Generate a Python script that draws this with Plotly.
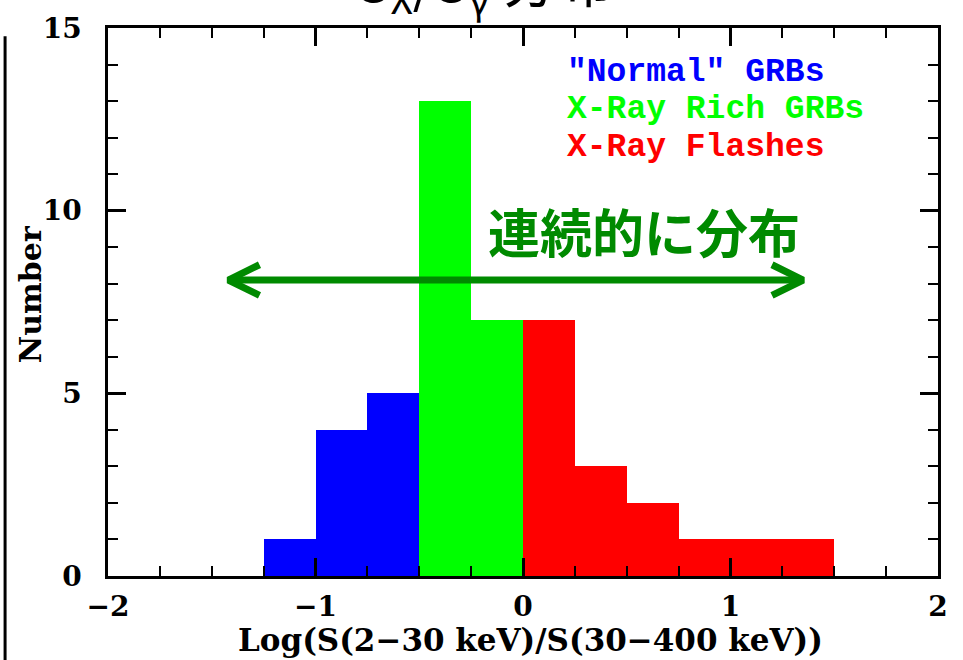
import plotly.graph_objects as go

# Histogram of log fluence ratio, one bin every 0.25
bin_width = 0.25
normal_x = [-1.125, -0.875, -0.625]
normal_n = [1, 4, 5]
xrr_x = [-0.375, -0.125]
xrr_n = [13, 7]
xrf_x = [0.125, 0.375, 0.625, 0.875, 1.125, 1.375]
xrf_n = [7, 3, 2, 1, 1, 1]

series_names = ['"Normal" GRBs', "X-Ray Rich GRBs", "X-Ray Flashes"]
series_colors = ["#0000FF", "#00FF00", "#FF0000"]
label_rows = [13.78, 12.76, 11.74]

# Double-headed arrow across the distribution
arrow_x = [-1.42, 1.35]
arrow_y = 8.1
arrow_label = "連続的に分布"

serif = "DejaVu Serif"
mono = "Liberation Mono"
cjk = "Noto Sans CJK JP"

fig = go.Figure()
for xs, ns, name, col in zip([normal_x, xrr_x, xrf_x], [normal_n, xrr_n, xrf_n],
                             series_names, series_colors):
    fig.add_trace(go.Bar(x=xs, y=ns, width=bin_width, name=name,
                         marker=dict(color=col, line=dict(width=0)),
                         showlegend=False))

# arrow shaft and open chevron heads
arm_dx, arm_dy = 0.15, 0.42
green_dark = "#008A00"
fig.add_trace(go.Scatter(x=arrow_x, y=[arrow_y, arrow_y], mode="lines",
                         line=dict(color=green_dark, width=7), showlegend=False,
                         hoverinfo="skip"))
for tip, sgn in [(arrow_x[0], 1), (arrow_x[1], -1)]:
    fig.add_trace(go.Scatter(
        x=[tip + sgn * arm_dx, tip, tip + sgn * arm_dx],
        y=[arrow_y + arm_dy, arrow_y, arrow_y - arm_dy],
        mode="lines", line=dict(color=green_dark, width=7),
        showlegend=False, hoverinfo="skip"))

fig.add_annotation(x=-0.18, y=9.45, xref="x", yref="y", text=arrow_label,
                   showarrow=False, xanchor="left", yanchor="middle",
                   font=dict(family=cjk, size=52, color=green_dark, weight="bold"))

# colour-coded series labels
for name, col, row in zip(series_names, series_colors, label_rows):
    fig.add_annotation(x=0.2, y=row, xref="x", yref="y",
                       text=name, showarrow=False,
                       xanchor="left", yanchor="middle",
                       font=dict(family=mono, size=33, color=col, weight="bold"))

# heading at the top edge
fig.add_annotation(x=0.455, y=1, xref="paper", yref="paper",
                   text="S<sub>X</sub>/S<sub>γ</sub> 分布", showarrow=False,
                   xanchor="center", yanchor="bottom", yshift=1,
                   font=dict(family=cjk, size=56, color="black"))

# axis captions
fig.add_annotation(x=-0.093, y=0.514, xref="paper", yref="paper",
                   text="Number", textangle=-90, showarrow=False,
                   xanchor="center", yanchor="middle",
                   font=dict(family=serif, size=30, color="black", weight="bold"))
fig.add_annotation(x=0.5096, y=-0.116, xref="paper", yref="paper",
                   text="Log(S(2−30 keV)/S(30−400 keV))", showarrow=False,
                   xanchor="center", yanchor="middle",
                   font=dict(family=serif, size=31, color="black", weight="bold"))

# left border rule
fig.add_shape(type="line", xref="paper", yref="paper",
              x0=-0.124, x1=-0.124, y0=0.985, y1=-0.2,
              line=dict(color="black", width=3))

axis_common = dict(showgrid=False, zeroline=False, showline=True,
                   linecolor="black", linewidth=2.5, mirror="allticks",
                   ticks="inside", tickcolor="black", tickwidth=2.5, ticklen=18)

fig.update_xaxes(range=[-2, 2], dtick=1, tick0=-2,
                 minor=dict(dtick=0.25, ticks="inside", ticklen=10,
                            tickwidth=2, tickcolor="black"),
                 tickfont=dict(family=serif, size=28, color="black", weight="bold"),
                 ticklabelstandoff=4,
                 **axis_common)
fig.update_yaxes(range=[0, 15], dtick=5, tick0=0,
                 minor=dict(dtick=1, ticks="inside", ticklen=10,
                            tickwidth=2, tickcolor="black"),
                 tickfont=dict(family=serif, size=28, color="black", weight="bold"),
                 ticklabelstandoff=18,
                 **axis_common)

fig.update_layout(width=963, height=660, barmode="overlay", bargap=0,
                  margin=dict(l=108, r=25, t=22, b=84),
                  plot_bgcolor="white", paper_bgcolor="white")

fig.write_html("out.html")
